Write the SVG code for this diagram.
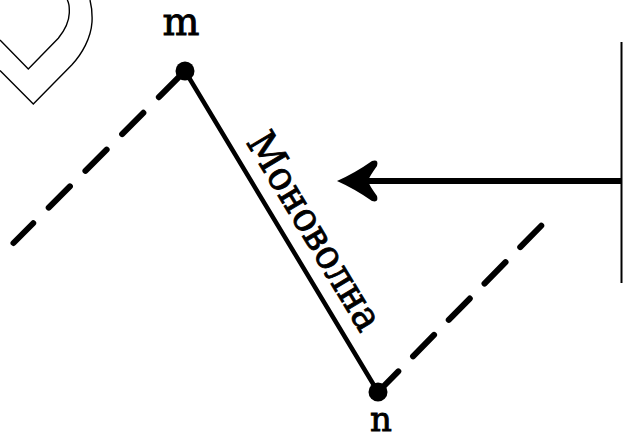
<svg xmlns="http://www.w3.org/2000/svg" width="623" height="439" viewBox="0 0 623 439">
<style>
.lbl{font-family:"DejaVu Serif","Liberation Serif",serif;fill:#000;stroke:#000;stroke-width:0.9}
.dash{fill:none;stroke:#000;stroke-width:6;stroke-linecap:round;stroke-dasharray:30 22}
.thin{fill:none;stroke:#000;stroke-width:1.4;stroke-linejoin:miter}
</style>
<rect width="623" height="439" fill="#fff"/>
<g id="heart">
<path class="thin" d="M0,40 L28.3,69 L58.3,38.3 C65,30 69,22 69.3,13 C69.5,8 69,3 67.3,0"/>
<path class="thin" d="M0,70.5 L33.3,104 L71.7,65 C82,54 91,38 92,22 C92.5,12 91,4 90,0"/>
</g>
<g id="connectors">
<line x1="185" y1="71" x2="13.5" y2="243" class="dash" style="stroke-dashoffset:-7"/>
<line x1="378" y1="392" x2="542" y2="225" class="dash" style="stroke-dasharray:30 21;stroke-dashoffset:1"/>
<line x1="185" y1="71" x2="378" y2="392" stroke="#000" stroke-width="4.5" stroke-linecap="round"/>
<line x1="622" y1="181" x2="368" y2="181" stroke="#000" stroke-width="6"/>
<path d="M337,181 Q355,173 372,161 Q379,159 377,166 Q369,177 368,181 Q369,185 377,196 Q379,203 372,201 Q355,189 337,181 Z" fill="#000"/>
<line x1="621.5" y1="42" x2="621.5" y2="283" stroke="#000" stroke-width="2"/>
</g>
<g id="node-m">
<circle cx="185" cy="71" r="9.5" fill="#000"/>
<text class="lbl" x="181" y="35" font-size="39" text-anchor="middle">m</text>
</g>
<g id="node-n">
<circle cx="378" cy="392" r="9.5" fill="#000"/>
<text class="lbl" x="381" y="431" font-size="34" text-anchor="middle">n</text>
</g>
<g id="label">
<text class="lbl" transform="translate(245.5,142) rotate(59)" x="0" y="0" font-size="40" textLength="224" lengthAdjust="spacingAndGlyphs">Моноволна</text>
</g>
</svg>
